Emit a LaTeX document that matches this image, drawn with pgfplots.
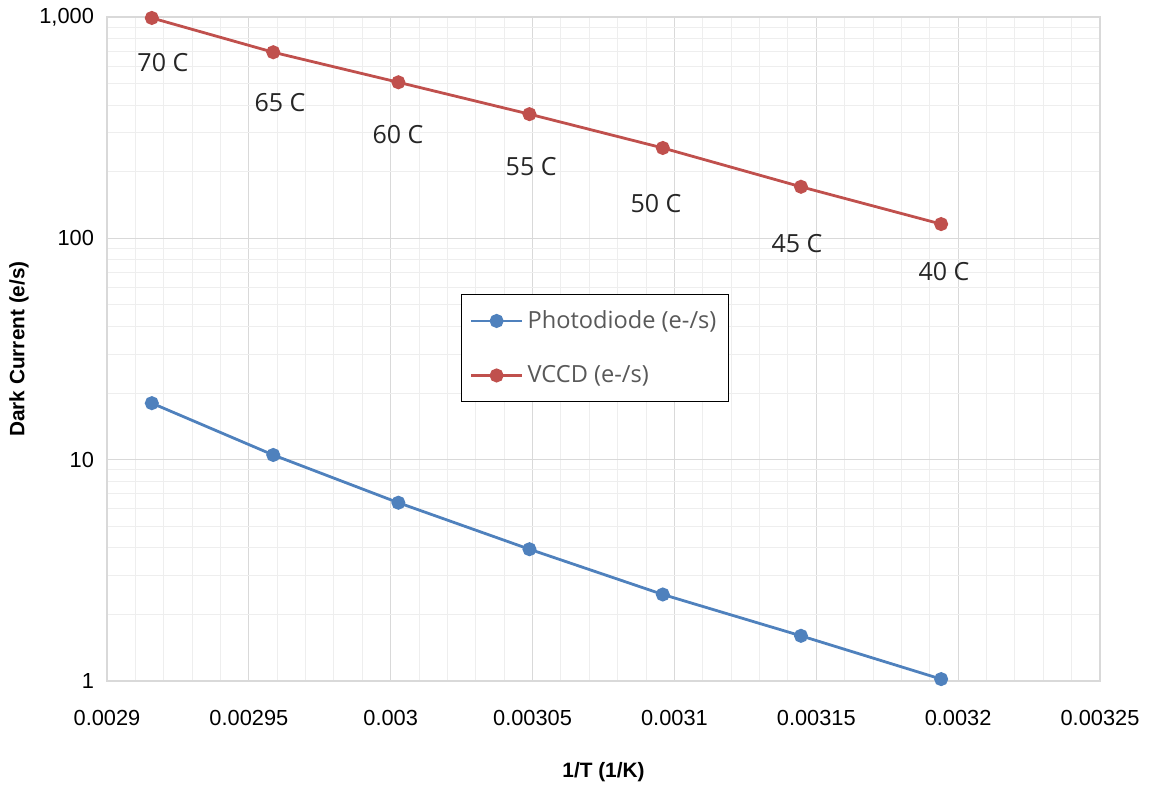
\documentclass[border=0pt]{standalone}
\usepackage{fontspec}
\setmainfont{Liberation Sans}
\newfontfamily\lblfont{Open Sans}
\usepackage{pgfplots}
\pgfplotsset{compat=1.18}
\definecolor{pdblue}{HTML}{4F81BD}
\definecolor{vcred}{HTML}{C0504D}
\definecolor{majgrid}{HTML}{D9D9D9}
\definecolor{mingrid}{HTML}{EEEEEE}
\definecolor{lbltext}{HTML}{262626}
\definecolor{legtext}{HTML}{595959}
\begin{document}
\begin{tikzpicture}
  \begin{axis}[
      scale only axis,
      width=496.5pt, height=332pt,
      ymode=log,
      xmin=0.0029, xmax=0.00325,
      ymin=1, ymax=1000,
      scaled x ticks=false,
      xtick={0.0029,0.00295,0.003,0.00305,0.0031,0.00315,0.0032,0.00325},
      xticklabels={0.0029,0.00295,0.003,0.00305,0.0031,0.00315,0.0032,0.00325},
      ytick={1,10,100,1000},
      yticklabels={1,10,100,{1,000}},
      minor x tick num=4,
      grid=both,
      major grid style={majgrid, line width=0.6pt},
      minor grid style={mingrid, line width=0.5pt},
      axis line style={majgrid, line width=0.8pt},
      major tick length=0pt, minor tick length=0pt,
      tick label style={font=\fontsize{10.9}{12}\selectfont, black},
      /pgf/number format/assume math mode=true,
      xticklabel style={yshift=-11pt},
      yticklabel style={xshift=-3pt},
      xlabel={\textbf{1/T (1/K)}},
      ylabel={\textbf{Dark Current (e/s)}},
      label style={font=\fontsize{10.4}{12}\selectfont},
      xlabel style={at={(axis description cs:0.5,0)}, anchor=center, yshift=-45.5pt},
      ylabel style={at={(axis description cs:0,0.5)}, anchor=center, yshift=44pt},
      clip=false,
      legend style={at={(0.3565,0.583)}, anchor=north west, draw=black, line width=0.6pt,
        fill=white, font=\lblfont\fontsize{11.8}{13}\selectfont\color{legtext},
        inner xsep=4pt, inner ysep=6pt, row sep=13pt},
      legend cell align=left,
      legend image code/.code={\draw[mark repeat=2,mark phase=2] plot coordinates {(0cm,0cm) (0.45cm,0cm) (0.9cm,0cm)};},
      every axis plot/.append style={line width=1.4pt, mark=*, mark size=2.8pt},
    ]
    \addplot[pdblue, mark options={fill=pdblue, draw=pdblue}] coordinates {
      (0.0029158,18.0) (0.0029586,10.5) (0.0030027,6.39) (0.0030489,3.94)
      (0.0030959,2.46) (0.0031446,1.60) (0.0031940,1.02)};
    \addlegendentry{Photodiode (e-/s)}
    \addplot[vcred, mark options={fill=vcred, draw=vcred}] coordinates {
      (0.0029158,990) (0.0029586,693) (0.0030027,507) (0.0030489,364)
      (0.0030959,256) (0.0031446,171) (0.0031940,116)};
    \addlegendentry{VCCD (e-/s)}
    \begin{scope}[every node/.style={font=\lblfont\fontsize{12.5}{14}\selectfont, text=lbltext}]
      \node at (axis cs:0.0029197,620) {70 C};
      \node at (axis cs:0.0029610,409) {65 C};
      \node at (axis cs:0.0030026,293) {60 C};
      \node at (axis cs:0.0030495,210) {55 C};
      \node at (axis cs:0.0030935,143) {50 C};
      \node at (axis cs:0.0031432,94.3) {45 C};
      \node at (axis cs:0.0031950,70.5) {40 C};
    \end{scope}
  \end{axis}
  \pgfresetboundingbox
  \path[use as bounding box] ([shift={(-53.5pt,-53pt)}]current axis.south west) rectangle ([shift={(26.5pt,8.5pt)}]current axis.north east);
\end{tikzpicture}
\end{document}
